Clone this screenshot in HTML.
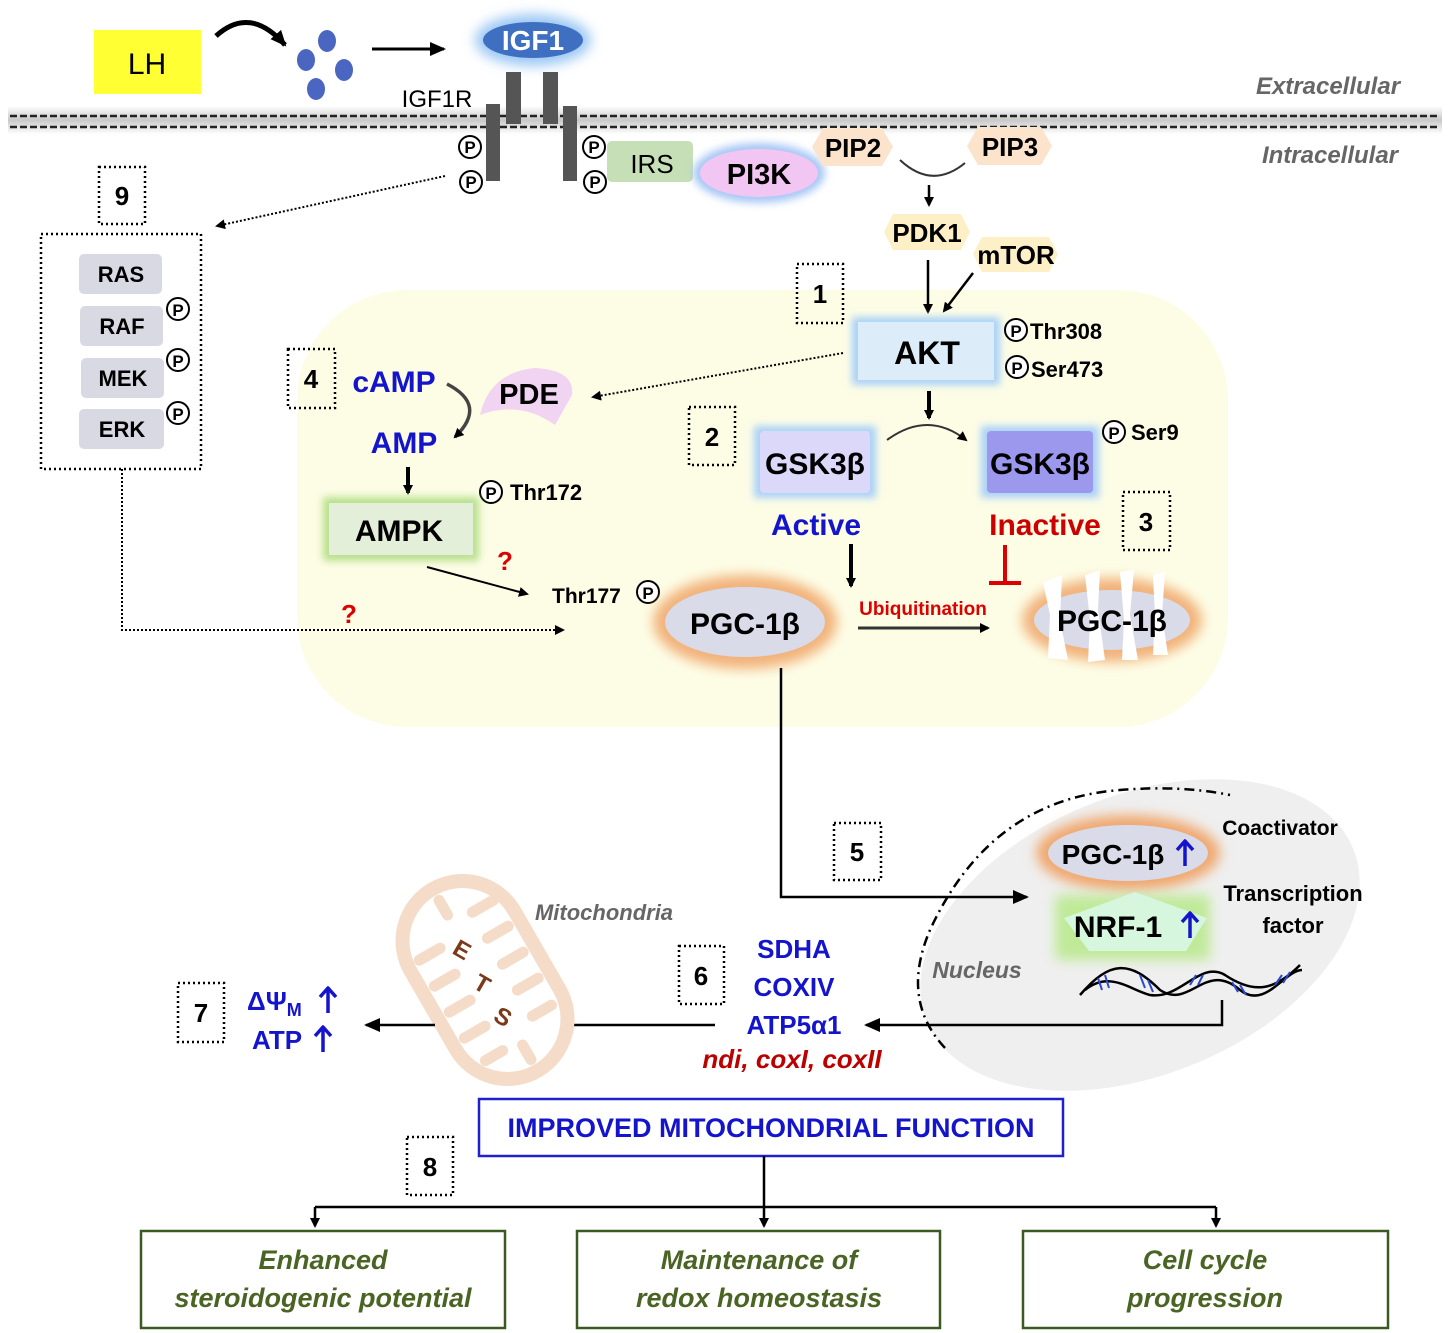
<!DOCTYPE html>
<html><head><meta charset="utf-8"><style>
html,body{margin:0;padding:0;background:#fff}
svg{display:block}
text{font-family:"Liberation Sans",sans-serif}
</style></head><body>
<svg width="1450" height="1333" viewBox="0 0 1450 1333" xmlns="http://www.w3.org/2000/svg">
<defs>
<filter id="b6" x="-50%" y="-50%" width="200%" height="200%"><feGaussianBlur stdDeviation="6"/></filter>
<filter id="b4" x="-50%" y="-50%" width="200%" height="200%"><feGaussianBlur stdDeviation="4"/></filter>
<marker id="ar" markerWidth="10" markerHeight="10" refX="8" refY="5" orient="auto" markerUnits="userSpaceOnUse"><path d="M0,0 L10,5 L0,10 Z" fill="#000"/></marker>
<marker id="arl" markerWidth="16" markerHeight="14" refX="14" refY="7" orient="auto" markerUnits="userSpaceOnUse"><path d="M0,0 L16,7 L0,14 Z" fill="#000"/></marker>
<linearGradient id="mem" x1="0" y1="0" x2="0" y2="1"><stop offset="0" stop-color="#fff"/><stop offset="0.5" stop-color="#c8c8c8"/><stop offset="1" stop-color="#fff"/></linearGradient>
<g id="up"><path d="M0,-12 L0,12 M-8,-4 L0,-13 L8,-4" fill="none" stroke="#1414cc" stroke-width="3.5" stroke-linejoin="round"/></g>
</defs>

<rect x="297" y="290" width="931" height="437" rx="110" fill="#fdfde6"/>

<rect x="8" y="106" width="1434" height="28" fill="url(#mem)"/>
<line x1="10" y1="116" x2="1440" y2="116" stroke="#222" stroke-width="2.5" stroke-dasharray="7,3"/>
<line x1="10" y1="127" x2="1440" y2="127" stroke="#222" stroke-width="2.5" stroke-dasharray="7,3"/>
<text x="1328" y="94" font-size="24" font-style="italic" font-weight="bold" fill="#666" text-anchor="middle">Extracellular</text>
<text x="1330" y="163" font-size="24" font-style="italic" font-weight="bold" fill="#666" text-anchor="middle">Intracellular</text>

<rect x="94" y="30" width="107" height="64" fill="#ffff33"/>
<text x="147" y="74" font-size="30" text-anchor="middle">LH</text>
<path d="M216,36 Q250,5 285,45" fill="none" stroke="#000" stroke-width="5" marker-end="url(#arl)"/>
<ellipse cx="327" cy="41" rx="9" ry="11" fill="#4a66c0"/>
<ellipse cx="306" cy="60" rx="9" ry="11" fill="#4a66c0"/>
<ellipse cx="344" cy="70" rx="9" ry="11" fill="#4a66c0"/>
<ellipse cx="316" cy="89" rx="9" ry="11" fill="#4a66c0"/>
<line x1="372" y1="49" x2="444" y2="49" stroke="#000" stroke-width="3" marker-end="url(#arl)"/>

<ellipse cx="533" cy="40" rx="58" ry="26" fill="#9cc8f4" filter="url(#b6)"/>
<ellipse cx="533" cy="40" rx="50" ry="18" fill="#3f6fc0"/>
<text x="533" y="50" font-size="28" font-weight="bold" fill="#fff" text-anchor="middle">IGF1</text>
<text x="437" y="107" font-size="24" text-anchor="middle">IGF1R</text>
<rect x="486" y="104" width="14" height="77" fill="#555"/>
<rect x="563" y="106" width="14" height="75" fill="#555"/>
<rect x="506" y="72" width="15" height="52" fill="#555"/>
<rect x="543" y="72" width="15" height="52" fill="#555"/>
<g font-size="17" font-weight="bold" text-anchor="middle" fill="#000">
<circle cx="470" cy="147" r="11" fill="#fff" stroke="#000" stroke-width="2"/><text x="470" y="153">P</text>
<circle cx="471" cy="182" r="11" fill="#fff" stroke="#000" stroke-width="2"/><text x="471" y="188">P</text>
<circle cx="594" cy="147" r="11" fill="#fff" stroke="#000" stroke-width="2"/><text x="594" y="153">P</text>
<circle cx="595" cy="182" r="11" fill="#fff" stroke="#000" stroke-width="2"/><text x="595" y="188">P</text>
</g>
<rect x="607" y="141" width="86" height="41" rx="5" fill="#c6dfb6"/>
<text x="652" y="173" font-size="26" text-anchor="middle">IRS</text>
<ellipse cx="759" cy="173" rx="66" ry="30" fill="#a8c8f4" filter="url(#b4)"/>
<ellipse cx="759" cy="173" rx="59" ry="24" fill="#f2c6f2"/>
<text x="759" y="184" font-size="29" font-weight="bold" text-anchor="middle">PI3K</text>

<polygon points="812,147 823,128 882,128 893,147 882,166 823,166" fill="#fbe3cc"/>
<text x="853" y="157" font-size="26" font-weight="bold" text-anchor="middle">PIP2</text>
<polygon points="967,146 978,127 1041,127 1052,146 1041,165 978,165" fill="#fbe3cc"/>
<text x="1010" y="156" font-size="26" font-weight="bold" text-anchor="middle">PIP3</text>
<path d="M900,160 Q932,190 965,163" fill="none" stroke="#333" stroke-width="2"/>
<line x1="929" y1="185" x2="929" y2="205" stroke="#000" stroke-width="2.5" marker-end="url(#ar)"/>
<polygon points="884,232 893,214 961,214 970,232 961,250 893,250" fill="#fdf0c6"/>
<text x="927" y="242" font-size="26" font-weight="bold" text-anchor="middle">PDK1</text>
<polygon points="973,254 982,237 1049,237 1058,254 1049,272 982,272" fill="#fdf0c6"/>
<text x="1016" y="264" font-size="26" font-weight="bold" text-anchor="middle">mTOR</text>
<line x1="928" y1="260" x2="928" y2="312" stroke="#000" stroke-width="2.5" marker-end="url(#ar)"/>
<line x1="973" y1="273" x2="944" y2="311" stroke="#000" stroke-width="2.5" marker-end="url(#ar)"/>

<g fill="none" stroke="#000" stroke-width="2.5" stroke-dasharray="2,3">
<rect x="797" y="264" width="46" height="59"/>
<rect x="288" y="349" width="47" height="59"/>
<rect x="689" y="407" width="46" height="58"/>
<rect x="1123" y="492" width="47" height="58"/>
<rect x="99" y="167" width="46" height="57"/>
<rect x="834" y="823" width="47" height="57"/>
<rect x="679" y="946" width="45" height="58"/>
<rect x="178" y="983" width="46" height="59"/>
<rect x="407" y="1137" width="46" height="58"/>
<rect x="41" y="234" width="160" height="235"/>
</g>
<g font-size="26" font-weight="bold" text-anchor="middle">
<text x="820" y="303">1</text><text x="311" y="388">4</text><text x="712" y="446">2</text>
<text x="1146" y="531">3</text><text x="122" y="205">9</text><text x="857" y="861">5</text>
<text x="701" y="985">6</text><text x="201" y="1022">7</text><text x="430" y="1176">8</text>
</g>

<rect x="852" y="317" width="148" height="68" fill="#a8d0f8" filter="url(#b4)"/>
<rect x="858" y="322" width="136" height="58" fill="#dcedf9"/>
<text x="927" y="364" font-size="32" font-weight="bold" text-anchor="middle">AKT</text>
<g font-size="22" font-weight="bold">
<circle cx="1016" cy="330" r="11" fill="#fff" stroke="#000" stroke-width="2"/><text x="1016" y="337" font-size="17" text-anchor="middle">P</text>
<text x="1030" y="339">Thr308</text>
<circle cx="1017" cy="367" r="11" fill="#fff" stroke="#000" stroke-width="2"/><text x="1017" y="374" font-size="17" text-anchor="middle">P</text>
<text x="1031" y="377">Ser473</text>
</g>
<line x1="843" y1="353" x2="593" y2="397" stroke="#000" stroke-width="2" stroke-dasharray="2,2" marker-end="url(#ar)"/>

<path d="M480,415 Q490,372 535,368 Q575,370 572,395 L555,425 Q520,400 480,415 Z" fill="#f0d4f2"/>
<text x="529" y="404" font-size="29" font-weight="bold" text-anchor="middle">PDE</text>
<text x="394" y="392" font-size="30" font-weight="bold" fill="#1414cc" text-anchor="middle">cAMP</text>
<text x="404" y="453" font-size="30" font-weight="bold" fill="#1414cc" text-anchor="middle">AMP</text>
<path d="M447,384 Q488,405 455,437" fill="none" stroke="#444" stroke-width="3.5" marker-end="url(#ar)"/>
<line x1="408" y1="467" x2="408" y2="493" stroke="#000" stroke-width="4" marker-end="url(#ar)"/>
<circle cx="491" cy="492" r="11" fill="#fff" stroke="#000" stroke-width="2"/><text x="491" y="499" font-size="17" font-weight="bold" text-anchor="middle">P</text>
<text x="510" y="500" font-size="22" font-weight="bold">Thr172</text>
<rect x="323" y="497" width="156" height="64" fill="#b8e08c" filter="url(#b4)"/>
<rect x="329" y="503" width="144" height="52" fill="#e4efda"/>
<text x="399" y="541" font-size="30" font-weight="bold" text-anchor="middle">AMPK</text>
<text x="505" y="570" font-size="26" font-weight="bold" fill="#d00" text-anchor="middle">?</text>
<text x="349" y="623" font-size="26" font-weight="bold" fill="#d00" text-anchor="middle">?</text>
<line x1="427" y1="567" x2="527" y2="594" stroke="#000" stroke-width="2" marker-end="url(#ar)"/>
<text x="552" y="603" font-size="21" font-weight="bold">Thr177</text>
<circle cx="648" cy="592" r="11" fill="#fff" stroke="#000" stroke-width="2"/><text x="648" y="599" font-size="17" font-weight="bold" text-anchor="middle">P</text>

<g font-size="22" font-weight="bold" text-anchor="middle">
<rect x="79" y="254" width="83" height="40" rx="5" fill="#d8d9e2"/><text x="121" y="282">RAS</text>
<rect x="80" y="306" width="83" height="40" rx="5" fill="#d8d9e2"/><text x="122" y="334">RAF</text>
<rect x="81" y="358" width="83" height="40" rx="5" fill="#d8d9e2"/><text x="123" y="386">MEK</text>
<rect x="79" y="409" width="85" height="40" rx="5" fill="#d8d9e2"/><text x="122" y="437">ERK</text>
</g>
<g font-size="17" font-weight="bold" text-anchor="middle">
<circle cx="178" cy="309" r="11" fill="#fff" stroke="#000" stroke-width="2"/><text x="178" y="316">P</text>
<circle cx="178" cy="360" r="11" fill="#fff" stroke="#000" stroke-width="2"/><text x="178" y="367">P</text>
<circle cx="178" cy="413" r="11" fill="#fff" stroke="#000" stroke-width="2"/><text x="178" y="420">P</text>
</g>
<line x1="445" y1="176" x2="217" y2="226" stroke="#000" stroke-width="2" stroke-dasharray="2,2" marker-end="url(#ar)"/>
<polyline points="122,469 122,630 563,630" fill="none" stroke="#000" stroke-width="2" stroke-dasharray="2,2" marker-end="url(#ar)"/>

<rect x="754" y="426" width="122" height="72" fill="#a8d0f8" filter="url(#b4)"/>
<rect x="760" y="431" width="110" height="62" rx="4" fill="#dcd8fa"/>
<text x="815" y="474" font-size="30" font-weight="bold" text-anchor="middle">GSK3β</text>
<rect x="981" y="426" width="118" height="72" fill="#a8d0f8" filter="url(#b4)"/>
<rect x="987" y="431" width="106" height="62" rx="4" fill="#9c98ee"/>
<text x="1040" y="474" font-size="30" font-weight="bold" text-anchor="middle">GSK3β</text>
<path d="M887,440 Q928,410 966,440" fill="none" stroke="#333" stroke-width="2" marker-end="url(#ar)"/>
<line x1="929" y1="391" x2="929" y2="418" stroke="#000" stroke-width="4" marker-end="url(#ar)"/>
<circle cx="1114" cy="432" r="11" fill="#fff" stroke="#000" stroke-width="2"/><text x="1114" y="439" font-size="17" font-weight="bold" text-anchor="middle">P</text>
<text x="1131" y="440" font-size="22" font-weight="bold">Ser9</text>
<text x="816" y="535" font-size="30" font-weight="bold" fill="#1414cc" text-anchor="middle">Active</text>
<text x="1045" y="535" font-size="30" font-weight="bold" fill="#c00" text-anchor="middle">Inactive</text>
<line x1="851" y1="544" x2="851" y2="586" stroke="#000" stroke-width="4" marker-end="url(#ar)"/>
<line x1="1005" y1="545" x2="1005" y2="582" stroke="#d00" stroke-width="4"/>
<line x1="989" y1="583" x2="1021" y2="583" stroke="#d00" stroke-width="4"/>

<ellipse cx="745" cy="622" rx="92" ry="47" fill="#f2b27a" filter="url(#b6)"/>
<ellipse cx="745" cy="622" rx="80" ry="35" fill="#d9dbe8"/>
<text x="745" y="634" font-size="30" font-weight="bold" text-anchor="middle">PGC-1β</text>
<text x="923" y="615" font-size="19" font-weight="bold" fill="#d00" text-anchor="middle">Ubiquitination</text>
<line x1="858" y1="628" x2="988" y2="628" stroke="#333" stroke-width="3" marker-end="url(#ar)"/>
<ellipse cx="1112" cy="620" rx="90" ry="42" fill="#f2b27a" filter="url(#b6)"/>
<ellipse cx="1112" cy="620" rx="78" ry="30" fill="#d9dbe8"/>
<g fill="#fff">
<path d="M1043,582 L1062,575 L1060,620 L1068,660 L1048,658 L1050,615 Z"/>
<path d="M1085,575 L1100,570 L1098,610 L1105,660 L1088,662 L1090,620 Z"/>
<path d="M1120,572 L1134,570 L1130,615 L1138,660 L1122,660 L1124,620 Z"/>
<path d="M1153,575 L1165,572 L1162,615 L1168,655 L1153,655 L1155,615 Z"/>
</g>
<text x="1112" y="631" font-size="30" font-weight="bold" text-anchor="middle">PGC-1β</text>

<ellipse cx="1140" cy="935" rx="230" ry="140" transform="rotate(-22 1140 935)" fill="#efefef"/>
<path d="M945,1048 Q900,1000 930,930 Q990,800 1120,790 Q1180,785 1230,795" fill="none" stroke="#000" stroke-width="2.5" stroke-dasharray="10,5,2,5"/>
<text x="977" y="978" font-size="23" font-style="italic" font-weight="bold" fill="#666" text-anchor="middle">Nucleus</text>
<ellipse cx="1128" cy="853" rx="92" ry="38" fill="#f0a870" filter="url(#b6)"/>
<ellipse cx="1128" cy="853" rx="80" ry="28" fill="#d9dbe8"/>
<text x="1113" y="864" font-size="28" font-weight="bold" text-anchor="middle">PGC-1β</text>
<use href="#up" x="1185" y="854"/>
<rect x="1055" y="895" width="155" height="65" fill="#c0ea98" filter="url(#b6)"/>
<polygon points="1135,892 1207,918 1186,951 1089,951 1064,918" fill="#d6f6de"/>
<text x="1118" y="937" font-size="30" font-weight="bold" text-anchor="middle">NRF-1</text>
<use href="#up" x="1190" y="926"/>
<text x="1280" y="835" font-size="21" font-weight="bold" text-anchor="middle">Coactivator</text>
<text x="1293" y="901" font-size="22" font-weight="bold" text-anchor="middle">Transcription</text>
<text x="1293" y="933" font-size="22" font-weight="bold" text-anchor="middle">factor</text>
<path d="M1080,995 C1110,960 1130,960 1160,990 C1190,1010 1205,960 1240,990 C1265,1010 1285,970 1302,970" fill="none" stroke="#000" stroke-width="2.5"/>
<path d="M1085,990 C1110,970 1130,990 1150,995 C1180,1000 1200,960 1225,975 C1255,995 1275,990 1300,965" fill="none" stroke="#000" stroke-width="2.5"/>
<g stroke="#2a4ad0" stroke-width="2">
<line x1="1098" y1="978" x2="1102" y2="990"/><line x1="1105" y1="975" x2="1109" y2="988"/>
<line x1="1140" y1="975" x2="1145" y2="988"/><line x1="1148" y1="980" x2="1153" y2="992"/>
<line x1="1190" y1="985" x2="1196" y2="975"/><line x1="1198" y1="985" x2="1203" y2="975"/>
<line x1="1232" y1="982" x2="1238" y2="992"/><line x1="1240" y1="985" x2="1246" y2="995"/>
<line x1="1275" y1="985" x2="1282" y2="975"/><line x1="1283" y1="983" x2="1290" y2="972"/>
</g>
<polyline points="781,668 781,897 1027,897" fill="none" stroke="#000" stroke-width="2.5" marker-end="url(#arl)"/>
<polyline points="1222,1000 1222,1025 866,1025" fill="none" stroke="#000" stroke-width="2.5" marker-end="url(#arl)"/>

<g font-size="26" font-weight="bold" fill="#1414cc" text-anchor="middle">
<text x="794" y="958">SDHA</text><text x="794" y="996">COXIV</text><text x="794" y="1034">ATP5α1</text>
</g>
<text x="792" y="1068" font-size="26" font-weight="bold" font-style="italic" fill="#b00" text-anchor="middle">ndi, coxI, coxII</text>
<line x1="715" y1="1025" x2="556" y2="1025" stroke="#000" stroke-width="2.5" marker-end="url(#arl)"/>

<g transform="rotate(-30 485 980)">
<rect x="425" y="875" width="120" height="210" rx="60" fill="#fff" stroke="#f5dcc8" stroke-width="14"/>
<g stroke="#f5dcc8" stroke-width="11" stroke-linecap="round">
<line x1="438" y1="930" x2="462" y2="930"/><line x1="438" y1="960" x2="462" y2="960"/><line x1="438" y1="990" x2="462" y2="990"/><line x1="438" y1="1020" x2="462" y2="1020"/><line x1="445" y1="1050" x2="465" y2="1050"/>
<line x1="508" y1="915" x2="532" y2="915"/><line x1="508" y1="945" x2="532" y2="945"/><line x1="508" y1="975" x2="532" y2="975"/><line x1="508" y1="1005" x2="532" y2="1005"/><line x1="508" y1="1035" x2="530" y2="1035"/>
<line x1="485" y1="888" x2="485" y2="905"/><line x1="485" y1="1055" x2="485" y2="1072"/>
</g>
</g>
<g font-size="24" font-weight="bold" fill="#7a3a1a" text-anchor="middle">
<text x="462" y="958" transform="rotate(30 462 950)">E</text>
<text x="482" y="992" transform="rotate(30 482 984)">T</text>
<text x="503" y="1025" transform="rotate(30 503 1017)">S</text>
</g>
<text x="604" y="920" font-size="22" font-style="italic" font-weight="bold" fill="#666" text-anchor="middle">Mitochondria</text>
<line x1="435" y1="1025" x2="366" y2="1025" stroke="#000" stroke-width="2.5" marker-end="url(#arl)"/>
<g font-size="26" font-weight="bold" fill="#1414cc">
<text x="247" y="1010">ΔΨ<tspan font-size="18" dy="6">M</tspan></text>
<text x="252" y="1049">ATP</text>
</g>
<use href="#up" x="328" y="1001"/>
<use href="#up" x="323" y="1040"/>

<rect x="479" y="1099" width="584" height="57" fill="#fff" stroke="#2020d0" stroke-width="2.5"/>
<text x="771" y="1137" font-size="27" font-weight="bold" fill="#1414cc" text-anchor="middle">IMPROVED MITOCHONDRIAL FUNCTION</text>
<line x1="764" y1="1156" x2="764" y2="1226" stroke="#000" stroke-width="2.5" marker-end="url(#ar)"/>
<line x1="315" y1="1207" x2="1216" y2="1207" stroke="#000" stroke-width="2.5"/>
<line x1="315" y1="1207" x2="315" y2="1226" stroke="#000" stroke-width="2.5" marker-end="url(#ar)"/>
<line x1="1216" y1="1207" x2="1216" y2="1226" stroke="#000" stroke-width="2.5" marker-end="url(#ar)"/>
<g fill="#fff" stroke="#3a5a22" stroke-width="2.5">
<rect x="141" y="1231" width="364" height="97"/><rect x="577" y="1231" width="363" height="97"/><rect x="1023" y="1231" width="365" height="97"/>
</g>
<g font-size="27" font-style="italic" font-weight="bold" fill="#4a6424" text-anchor="middle">
<text x="323" y="1269">Enhanced</text><text x="323" y="1307">steroidogenic potential</text>
<text x="759" y="1269">Maintenance of</text><text x="759" y="1307">redox homeostasis</text>
<text x="1205" y="1269">Cell cycle</text><text x="1205" y="1307">progression</text>
</g>
</svg>
</body></html>
